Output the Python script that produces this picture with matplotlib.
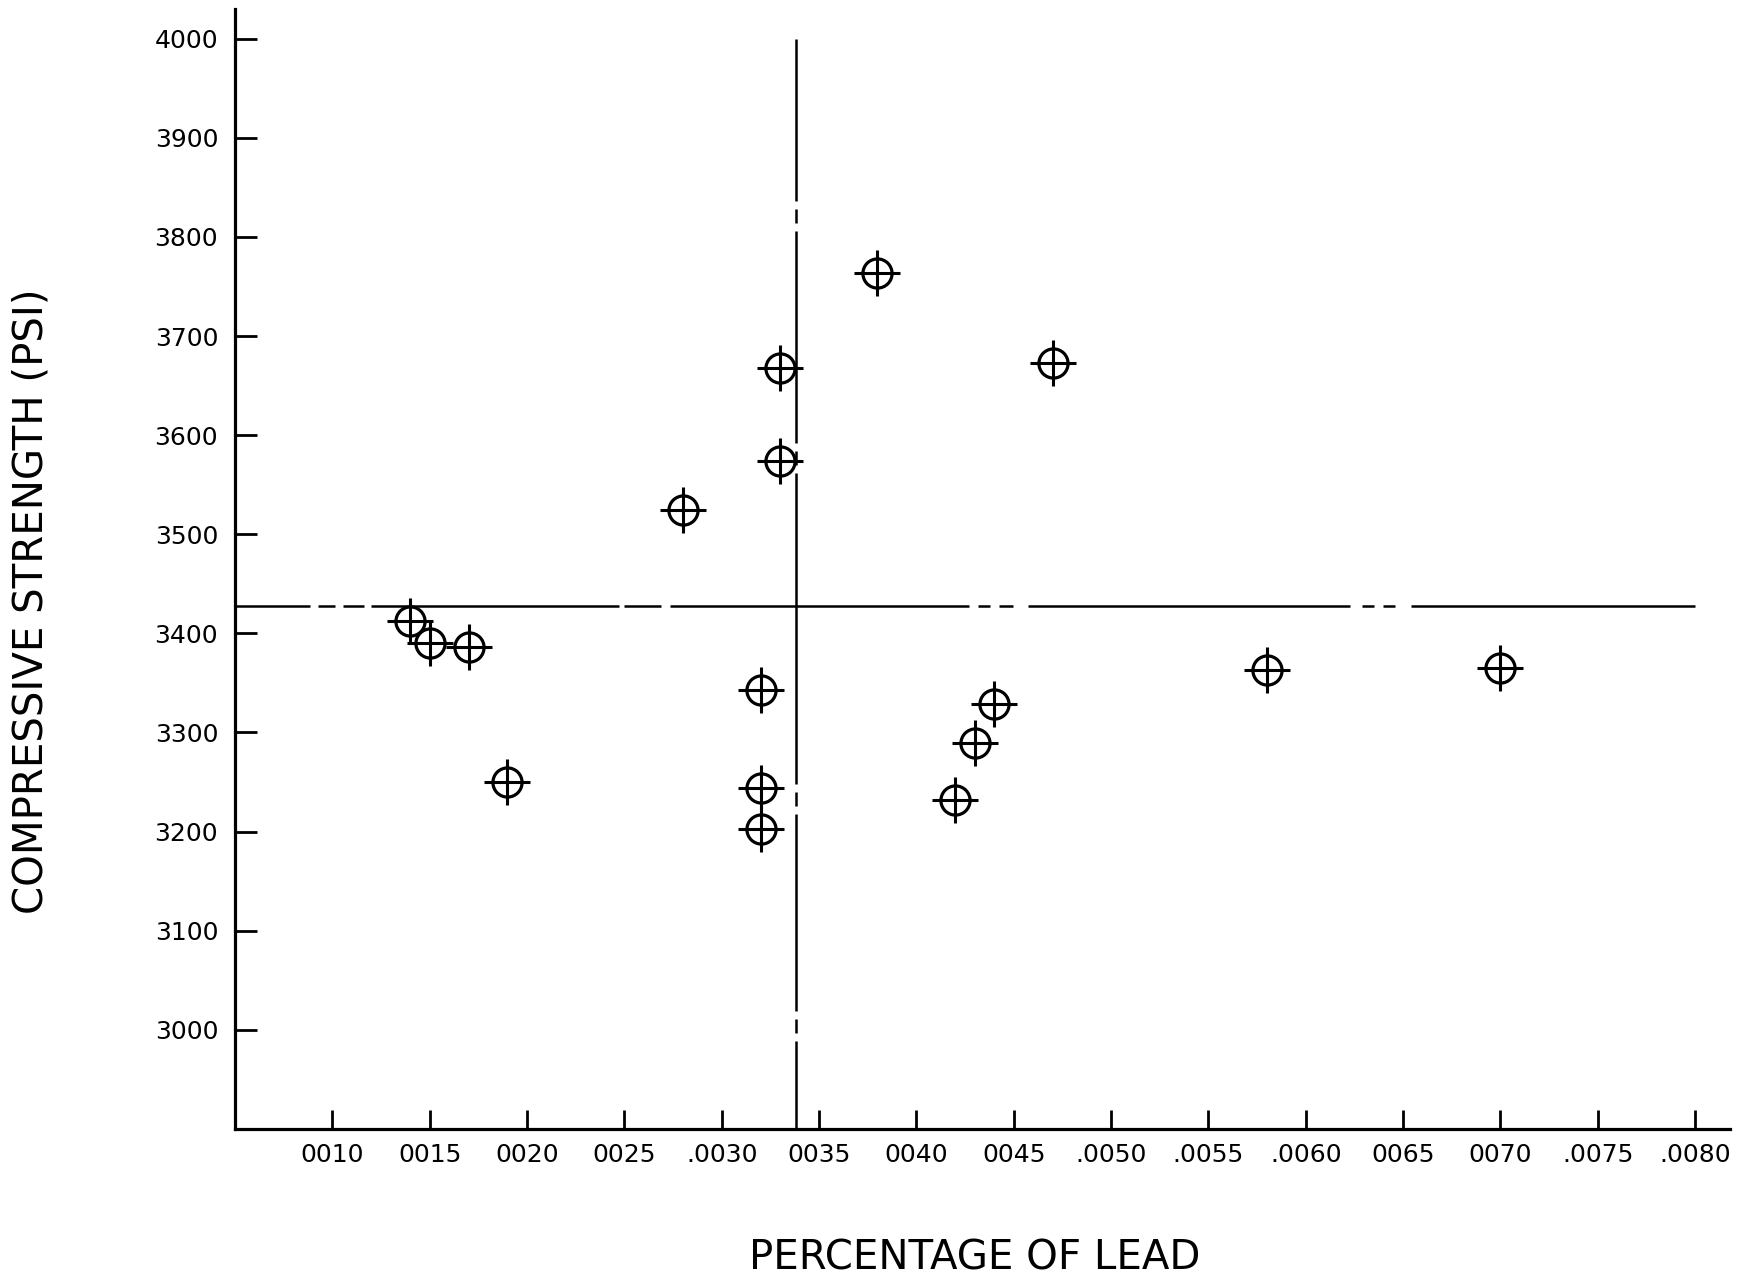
import matplotlib
matplotlib.use('Agg')
import matplotlib.pyplot as plt
import numpy as np

plt.rcParams['font.family'] = ['DejaVu Sans']
plt.rcParams['lines.scale_dashes'] = False

# percentage of lead vs compressive strength (psi)
lead = [0.0014, 0.0015, 0.0017, 0.0019, 0.0028, 0.0033, 0.0033, 0.0032, 0.0032,
        0.0032, 0.0038, 0.0047, 0.0044, 0.0043, 0.0042, 0.0058, 0.0070]
strength = [3412, 3390, 3386, 3250, 3524, 3668, 3574, 3343, 3244,
            3203, 3764, 3673, 3329, 3289, 3232, 3363, 3365]

# mean lines
mean_lead = 0.00338
mean_strength = 3428

xticks = [0.0010, 0.0015, 0.0020, 0.0025, 0.0030, 0.0035, 0.0040, 0.0045,
          0.0050, 0.0055, 0.0060, 0.0065, 0.0070, 0.0075, 0.0080]
xticklabels = ['0010', '0015', '0020', '0025', '.0030', '0035', '0040', '0045',
               '.0050', '.0055', '.0060', '0065', '0070', '.0075', '.0080']
yticks = [3000, 3100, 3200, 3300, 3400, 3500, 3600, 3700, 3800, 3900, 4000]

fig = plt.figure(figsize=(17.53, 12.80), dpi=100)
ax = fig.add_axes([0.134, 0.118, 0.853, 0.875])

ax.set_xlim(0.0005, 0.00818)
ax.set_ylim(2900, 4030)

for s in ['top', 'right']:
    ax.spines[s].set_visible(False)
for s in ['left', 'bottom']:
    ax.spines[s].set_linewidth(2.3)

# hand-drawn centre lines: irregular dash groups (pixel lengths -> points)
h_dash = [75, 8, 17, 8, 21, 7, 248, 5, 37, 9, 299, 9, 12, 9, 14, 15,
          322, 12, 12, 9, 12, 16, 400]
v_dash = [162, 8, 14, 8, 212, 8, 14, 8, 311, 8, 14, 8, 197, 8, 14, 8, 200]
h_dash = [d * 0.72 for d in h_dash]
v_dash = [d * 0.72 for d in v_dash]

ax.plot([0.0005, 0.0080], [mean_strength, mean_strength], color='black', lw=1.8,
        linestyle=(0, h_dash))
ax.plot([mean_lead, mean_lead], [4000, 2900], color='black', lw=1.8,
        linestyle=(0, v_dash))

# target-like markers
ax.plot(lead, strength, 'o', ms=21, mfc='none', mec='black', mew=2.3, ls='none')
ax.plot(lead, strength, '+', ms=33, mec='black', mew=2.2, ls='none')

ax.set_xticks(xticks)
ax.set_xticklabels(xticklabels)
ax.set_yticks(yticks)
ax.tick_params(axis='both', direction='in', width=2.0, labelsize=18)
ax.tick_params(axis='y', length=16, pad=12)
ax.tick_params(axis='x', length=14, pad=10)

fig.text(0.018, 0.53, 'COMPRESSIVE STRENGTH (PSI)', rotation=90, fontsize=29,
         ha='center', va='center')
fig.text(0.556, 0.017, 'PERCENTAGE OF LEAD', fontsize=29, ha='center', va='center')

fig.savefig('out.png', dpi=100)
